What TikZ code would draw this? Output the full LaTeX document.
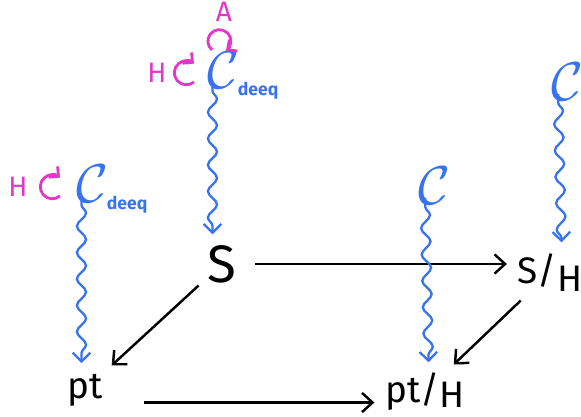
\documentclass[tikz,border=0pt]{standalone}
\usepackage{fontspec}
\usepackage{graphicx}
\setmainfont{Fira Sans}
\usetikzlibrary{arrows.meta, positioning, decorations.pathmorphing}

\definecolor{catblue}{RGB}{55,115,240}
\definecolor{actpink}{RGB}{228,55,200}

\newcommand{\catC}{\scalebox{1.5}{$\mathcal{C}$}}

\tikzset{
	obj/.style={font=\fontsize{21}{21}\selectfont, inner sep=2pt},
	cat/.style={text=catblue, font=\fontsize{20}{20}\selectfont, inner sep=1pt},
	deeqlbl/.style={text=catblue, font=\bfseries\fontsize{10}{10}\selectfont, inner sep=0pt},
	grp/.style={text=actpink, font=\fontsize{16}{16}\selectfont, inner sep=1pt},
	map/.style={-{Straight Barb[length=6pt,width=11pt]}, line width=1.4pt, shorten <=4pt, shorten >=4pt},
	wavy/.style={catblue, line width=1.3pt, -{Straight Barb[length=5pt,width=10pt]},
		decorate, decoration={snake, amplitude=2.6pt, segment length=15pt, post length=6pt},
		shorten <=5pt, shorten >=4pt},
	loop/.style={actpink, line width=1.6pt, -{Straight Barb[length=4pt,width=8pt]}}
}

\begin{document}
\begin{tikzpicture}
	\useasboundingbox (0,0) rectangle (11.62,-8.34);

	% the square of spaces
	\node[obj, font=\fontsize{30}{30}\selectfont] (S) at (4.44,-5.28) {S};
	\node[obj] (SH) at (11.0,-5.45) {S/\raisebox{-0.45ex}{H}};
	\node[obj] (pt) at (1.70,-7.80) {pt};
	\node[obj] (ptH) at (8.50,-7.84) {pt/\raisebox{-0.25ex}{H}};

	\draw[map] (S.east) ++(0.15,0) coordinate (Se) -- (SH.west |- Se);
	\draw[map] (S) -- (pt);
	\draw[map] (SH) -- (ptH);
	\draw[map] (pt.east) ++(0.6,-0.25) coordinate (pte) -- (ptH.west |- pte);

	% categories over the spaces
	\node[cat] (Ctop) at (4.46,-1.40) {\catC};
	\node[deeqlbl, right=-2pt of Ctop.south east, anchor=west] (Dtop) {deeq};
	\node[cat] (Cleft) at (1.84,-3.68) {\catC};
	\node[deeqlbl, right=-2pt of Cleft.south east, anchor=west] (Dleft) {deeq};
	\node[cat] (Cmid) at (8.68,-3.72) {\catC};
	\node[cat] (Cright) at (11.34,-1.64) {\catC};

	\draw[wavy] ([xshift=-6pt]Ctop.south) -- ([xshift=-6pt]Ctop.south |- S.north);
	\draw[wavy] ([xshift=-6pt]Cleft.south) -- ([xshift=-6pt]Cleft.south |- pt.north);
	\draw[wavy] ([xshift=-5pt]Cmid.south) -- ([xshift=-3pt]Cmid.south |- ptH.north);
	\draw[wavy] ([xshift=-5pt]Cright.south) -- ([xshift=-3pt]Cright.south |- SH.north);

	% actions
	\node[grp] (Htop) at (3.14,-1.46) {H};
	\node[grp] (Hleft) at (0.36,-3.74) {H};
	\node[grp] (A) at (4.48,-0.24) {A};
	\draw[loop] (3.88,-1.64) arc[start angle=-50, end angle=-310, radius=0.24];
	\draw[loop] (1.20,-3.92) arc[start angle=-50, end angle=-310, radius=0.24];
	\draw[loop] (4.24,-1.00) arc[start angle=230, end angle=-55, radius=0.23];
\end{tikzpicture}
\end{document}
